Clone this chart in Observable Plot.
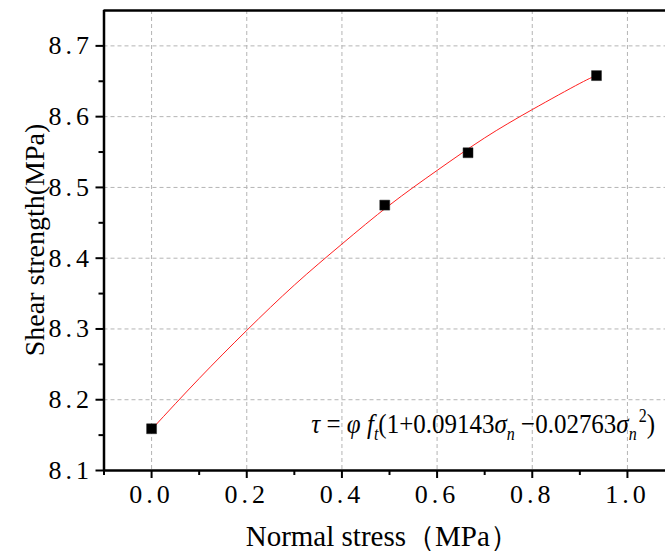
<!DOCTYPE html>
<html><head><meta charset="utf-8">
<script src="https://cdn.jsdelivr.net/npm/d3@7"></script>
<script src="https://cdn.jsdelivr.net/npm/@observablehq/plot@0.6"></script>
<style>
body{margin:0;background:#fff;}
#chart svg, #chart svg text, #chart svg g{font-family:"Liberation Serif","Times New Roman",serif !important; font-variant:normal !important;}
g[aria-label="x-axis tick label"] text, g[aria-label="y-axis tick label"] text{letter-spacing:4px;}
</style>
</head><body><div id="chart"></div>
<script>
// measured points
const stress = [0, 0.49, 0.665, 0.935];
const strength = [8.159, 8.475, 8.549, 8.658];
// fitted curve
const fitStress = [0, 0.1, 0.2, 0.3, 0.4, 0.5, 0.6, 0.7, 0.8, 0.9, 0.935];
const fitStrength = [8.158, 8.230, 8.298, 8.362, 8.420, 8.475, 8.524, 8.570, 8.610, 8.647, 8.658];
// axes
const xDomain = [-0.1, 1.08];
const yDomain = [8.1, 8.75];
const xTicks = [0, 0.2, 0.4, 0.6, 0.8, 1.0];
const xMinor = [-0.1, 0.1, 0.3, 0.5, 0.7, 0.9];
const yTicks = [8.1, 8.2, 8.3, 8.4, 8.5, 8.6, 8.7];
const yMinor = [8.15, 8.25, 8.35, 8.45, 8.55, 8.65];
const yGrid = [8.2, 8.3, 8.4, 8.5, 8.6, 8.7];
const xTitle = "Normal stress（MPa）";
const yTitle = "Shear strength(MPa)";

(function () {
const points = stress.map((s, i) => ({s, t: strength[i]}));
const fit = fitStress.map((s, i) => ({s, t: fitStrength[i]}));
const fmt = d3.format(".1f");
const serif = "Liberation Serif";
const gridStyle = {stroke: "#b4b4b4", strokeOpacity: 1, strokeDasharray: "4,3", strokeWidth: 1};

const plot = Plot.plot({
  width: 665, height: 553,
  marginLeft: 103.5, marginRight: 0, marginTop: 10, marginBottom: 83,
  style: {fontFamily: "'Liberation Serif', serif", background: "white", overflow: "visible"},
  x: {domain: xDomain},
  y: {domain: yDomain},
  marks: [
    Plot.gridX(xTicks, gridStyle),
    Plot.gridY(yGrid, gridStyle),
    Plot.line(fit, {x: "s", y: "t", stroke: "#ff2020", strokeWidth: 1, curve: "natural"}),
    Plot.dot(points, {x: "s", y: "t", symbol: "square", r: 5.6, fill: "black", stroke: "#222", strokeWidth: 0.5}),
    Plot.axisX(xMinor, {tickSize: 5, strokeWidth: 2, text: null, label: null}),
    Plot.axisX(xTicks, {tickSize: 8, strokeWidth: 2, tickPadding: 6, tickFormat: fmt, fontSize: 26, fontFamily: serif, fontVariant: "normal", label: null}),
    Plot.axisY(yMinor, {tickSize: 5, strokeWidth: 2, text: null, label: null}),
    Plot.axisY(yTicks, {tickSize: 8, strokeWidth: 2, tickPadding: 3, tickFormat: fmt, fontSize: 26, fontFamily: serif, fontVariant: "normal", label: null}),
    Plot.ruleY([yDomain[0]], {strokeWidth: 2.5}),
    Plot.ruleY([yDomain[1]], {strokeWidth: 2.5}),
    Plot.ruleX([xDomain[0]], {strokeWidth: 2.5})
  ]
});
document.getElementById("chart").appendChild(plot);

const svg = d3.select(plot);
const xs = plot.scale("x"), ys = plot.scale("y");
const pLeft = xs.range[0], pRight = xs.range[1];
const pBottom = ys.range[0], pTop = ys.range[1];

// axis titles
svg.append("text")
  .attr("x", (pLeft + pRight) / 2 - 2).attr("y", pBottom + 76)
  .attr("text-anchor", "middle").attr("font-size", 29).attr("fill", "black")
  .text(xTitle);
svg.append("text")
  .attr("transform", `translate(${pLeft - 60},${(pTop + pBottom) / 2}) rotate(-90)`)
  .attr("text-anchor", "middle").attr("font-size", 28).attr("fill", "black")
  .text(yTitle);

// formula annotation
const t = svg.append("text")
  .attr("transform", `translate(${pRight - 10},${pBottom - 37}) scale(1,1.12)`)
  .attr("text-anchor", "end")
  .attr("font-size", 25)
  .attr("fill", "black");
const parts = [
  ["τ", "i", 0], [" = ", "", 0], ["φ", "i", 0], [" f", "i", 0], ["t", "i", 1],
  ["(1+0.09143", "", -1], ["σ", "i", 0], ["n", "i", 1], [" −0.02763", "", -1],
  ["σ", "i", 0], ["n", "i", 1], ["2", "", 2], [")", "", 3]
];
for (const [txt, st, sh] of parts) {
  const sp = t.append("tspan").text(txt);
  if (st === "i") sp.attr("font-style", "italic");
  if (sh === 1) sp.attr("font-size", 16).attr("dy", 6);
  if (sh === -1) sp.attr("dy", -6);
  if (sh === 2) sp.attr("font-size", 16).attr("dy", -16).attr("dx", 2);
  if (sh === 3) sp.attr("dy", 10);
}
})();
</script>
</body></html>
